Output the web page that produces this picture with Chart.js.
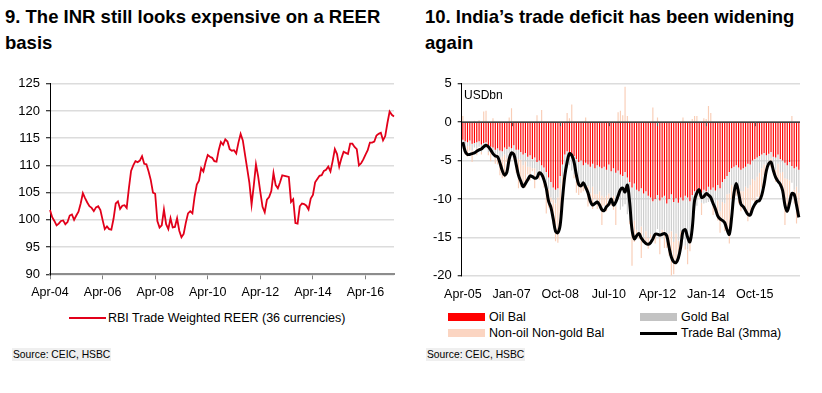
<!DOCTYPE html>
<html>
<head>
<meta charset="utf-8">
<script src="https://cdn.jsdelivr.net/npm/chart.js@4.4.1/dist/chart.umd.min.js"></script>
<style>
html,body{margin:0;padding:0;background:#fff;}
body{width:822px;height:393px;position:relative;overflow:hidden;font-family:"Liberation Sans",Arial,sans-serif;color:#000;}
.title{position:absolute;top:4px;font-weight:bold;font-size:18.5px;line-height:26px;white-space:nowrap;}
canvas{position:absolute;}
.src{position:absolute;top:348px;font-size:10.3px;line-height:13px;background:#efefef;padding:0 1px;white-space:nowrap;}
.lg{position:absolute;font-size:12.5px;line-height:14px;white-space:nowrap;}
.sw{position:absolute;}
</style>
</head>
<body>
<div class="title" style="left:5px">9. The INR still looks expensive on a REER<br>basis</div>
<div class="title" style="left:425px">10. India’s trade deficit has been widening<br>again</div>
<canvas id="c1" width="410" height="240" style="left:0;top:70px"></canvas>
<canvas id="c2" width="412" height="240" style="left:410px;top:70px"></canvas>
<div class="lg" style="left:464px;top:88px;font-size:12px">USDbn</div>

<div class="sw" style="left:69px;top:317px;width:37px;height:2px;background:#E2001A"></div>
<div class="lg" style="left:108px;top:311px">RBI Trade Weighted REER (36 currencies)</div>
<div class="src" style="left:12px">Source: CEIC, HSBC</div>

<div class="sw" style="left:448px;top:313px;width:37px;height:8px;background:#FF0000"></div>
<div class="lg" style="left:489px;top:310px">Oil Bal</div>
<div class="sw" style="left:640px;top:313px;width:37px;height:8px;background:#C3C3C3"></div>
<div class="lg" style="left:681px;top:310px">Gold Bal</div>
<div class="sw" style="left:448px;top:329px;width:37px;height:8px;background:#FBD5C2"></div>
<div class="lg" style="left:489px;top:326px">Non-oil Non-gold Bal</div>
<div class="sw" style="left:640px;top:331.5px;width:37px;height:3px;background:#000"></div>
<div class="lg" style="left:681px;top:326px">Trade Bal (3mma)</div>
<div class="src" style="left:426px">Source: CEIC, HSBC</div>

<script>
// ---------- Chart 9: REER (monthly, Apr-04 .. May-17) ----------
const reerValues = [
 101.8,100.5,99.8,99.0,99.3,99.8,99.9,99.2,99.6,100.8,
 101.0,100.0,100.8,101.5,103.0,104.9,104.0,103.2,102.5,102.2,
 101.6,102.3,102.5,101.8,100.0,98.3,98.8,98.3,98.2,100.2,
 103.0,103.4,102.0,102.6,102.7,102.2,105.8,109.0,110.0,110.8,
 110.6,110.9,111.7,110.3,110.2,108.9,107.3,105.0,104.8,99.8,
 98.6,99.0,101.9,99.2,98.3,100.3,98.6,98.7,100.3,98.0,
 96.8,97.4,99.5,101.2,101.6,101.2,104.3,106.5,107.2,109.5,
 108.9,110.6,111.9,111.6,111.4,110.8,110.7,112.8,114.3,113.8,
 114.8,114.4,113.0,112.7,112.8,112.2,114.2,115.8,114.6,112.0,
 109.4,106.8,102.8,106.3,110.2,108.0,105.1,102.4,101.4,103.7,
 104.2,105.3,108.6,106.4,105.8,106.9,108.2,108.1,108.0,107.9,
 103.3,103.8,99.4,99.3,102.5,103.0,102.9,102.6,101.9,103.9,
 104.6,106.9,107.5,108.1,108.2,109.0,109.2,109.8,108.9,110.8,
 113.0,112.1,109.8,111.3,112.5,112.3,112.1,114.0,114.0,113.4,
 113.0,110.0,110.4,111.1,112.0,112.8,114.2,114.2,114.4,115.5,
 115.8,116.0,114.6,115.4,117.8,119.9,119.3,119.0
];
const reerTickLabels = ['Apr-04','Apr-06','Apr-08','Apr-10','Apr-12','Apr-14','Apr-16'];
const reerYTicks = [90,95,100,105,110,115,120,125];

// ---------- Chart 10: trade balance (USDbn, monthly, Apr-05 .. May-17) ----------
const oilBal = [
 -2.3,-2.5,-2.6,-2.4,-2.8,-2.7,-2.6,-2.5,-2.9,-2.7,-2.6,-3.0,
 -3.2,-3.3,-3.6,-3.4,-3.7,-3.8,-3.3,-3.5,-3.2,-3.4,-3.0,-3.6,
 -3.6,-3.9,-4.2,-4.0,-4.5,-4.3,-4.8,-4.6,-5.2,-5.0,-5.6,-5.9,
 -6.5,-7.2,-7.8,-8.5,-8.8,-8.6,-7.0,-5.5,-4.2,-3.8,-4.0,-4.3,
 -4.4,-4.8,-5.2,-5.0,-5.6,-5.3,-5.5,-5.8,-5.4,-6.0,-5.6,-5.8,
 -6.0,-5.8,-6.2,-5.5,-6.4,-6.0,-6.6,-6.3,-6.8,-7.0,-6.5,-7.2,
 -7.8,-8.5,-8.0,-8.8,-9.0,-8.6,-9.3,-9.0,-9.6,-9.8,-10.3,-10.0,
 -9.5,-10.2,-9.8,-9.6,-10.6,-10.0,-9.4,-10.4,-9.9,-10.5,-9.8,-10.2,
 -9.6,-9.8,-10.3,-9.5,-9.0,-9.4,-8.6,-9.2,-8.8,-9.0,-8.4,-8.8,
 -8.5,-8.9,-8.2,-8.6,-7.8,-7.4,-7.0,-6.5,-6.0,-5.8,-5.6,-5.9,
 -6.2,-6.0,-5.8,-5.4,-5.5,-5.0,-4.8,-4.6,-4.4,-4.2,-4.0,-4.3,
 -4.1,-3.9,-4.5,-4.6,-4.2,-4.8,-5.0,-5.3,-5.6,-5.2,-5.7,-6.0,
 -5.8,-6.2
];
const goldBal = [
 -0.6,-0.8,-0.5,-0.7,-0.9,-0.6,-0.8,-0.7,-1.0,-0.6,-0.8,-0.9,
 -0.7,-0.9,-1.0,-0.8,-1.1,-0.7,-0.9,-1.2,-0.8,-1.0,-0.9,-1.1,
 -1.2,-1.0,-1.4,-1.1,-1.3,-1.5,-1.2,-1.4,-1.6,-1.3,-1.5,-1.7,
 -1.8,-1.5,-2.0,-1.6,-1.8,-1.2,-1.0,-1.5,-1.8,-2.2,-1.6,-2.0,
 -2.4,-2.8,-2.2,-3.0,-2.6,-3.2,-2.8,-3.5,-3.0,-3.4,-3.8,-3.2,
 -3.6,-4.0,-3.4,-3.8,-4.2,-3.6,-4.4,-3.8,-4.6,-4.0,-4.2,-4.8,
 -5.0,-5.4,-4.8,-5.2,-5.6,-5.0,-5.8,-5.2,-5.5,-4.8,-5.0,-4.6,
 -4.4,-4.8,-4.2,-4.6,-5.0,-4.5,-4.8,-5.2,-4.6,-4.9,-4.4,-5.0,
 -6.5,-6.8,-4.5,-2.5,-1.2,-1.5,-1.0,-1.3,-1.8,-1.5,-2.0,-1.6,
 -2.2,-2.5,-2.0,-3.0,-2.6,-3.2,-2.4,-2.8,-2.2,-2.6,-3.0,-2.5,
 -2.8,-3.0,-2.6,-3.2,-2.7,-2.4,-2.8,-2.5,-2.2,-1.8,-1.5,-1.2,
 -1.0,-0.8,-1.4,-1.6,-1.2,-1.8,-1.5,-2.0,-1.8,-2.4,-2.2,-2.8,
 -2.6,-3.0
];
const nonOilNonGoldBal = [
 0.8,-0.9,-1.4,-0.6,-1.5,0.2,-0.9,0.3,-0.3,1.4,1.5,-0.4,
 -1.2,0.5,-0.8,-1.3,-2.1,-2.8,-3.0,-0.5,0.6,1.8,-1.0,-1.9,
 -3.8,-3.5,-2.6,-3.4,-1.0,-1.8,-0.4,-2.6,0.9,-1.2,1.6,-0.9,
 -3.6,-2.4,-0.6,-3.2,-4.9,-5.9,-4.2,-1.8,-0.6,1.2,0.5,2.3,
 -0.5,-1.6,-2.1,-1.2,-0.8,0.6,-2.7,-0.7,-2.9,-0.6,-1.9,-1.5,
 -3.8,-1.1,-2.0,-0.7,-0.3,-1.8,-2.4,1.3,1.5,0.9,4.6,0.8,
 -0.5,-4.8,-2.8,-1.0,-0.6,-4.1,-0.2,-1.8,-1.4,-0.5,1.9,-1.2,
 0.6,-2.2,-0.9,-2.2,-0.8,-2.9,-5.8,-4.2,-3.5,-1.8,-0.8,0.6,
 -0.5,-1.9,-2.0,0.4,0.8,0.8,-0.2,-1.6,0.5,0.4,2.1,1.2,
 -1.4,-0.3,-2.6,-2.8,-2.1,-3.6,-4.5,-6.5,-1.8,-0.2,-1.0,-2.2,
 -2.6,-1.8,-3.2,-4.3,-3.6,-2.8,-3.4,-2.6,-3.2,-2.5,-1.4,-0.6,
 -0.4,-1.2,-1.0,-1.6,-2.0,-1.8,-3.2,-6.1,-3.8,-2.2,0.8,-1.8,
 -4.8,-3.0
];
const tradeBal3mma = [
 -2.6,-3.8,-4.2,-4.2,-4.1,-4.0,-3.8,-3.6,-3.5,-3.2,
 -3.0,-3.2,-3.6,-4.1,-4.4,-4.5,-5.3,-6.3,-6.9,-6.5,
 -4.8,-4.0,-4.2,-5.5,-6.9,-7.7,-8.4,-8.0,-7.5,-7.0,
 -7.1,-7.3,-7.2,-6.6,-6.8,-7.5,-8.6,-10.3,-11.1,-12.6,
 -14.2,-14.4,-13.4,-10.0,-7.0,-5.2,-4.1,-4.3,-5.2,-6.9,
 -8.1,-8.3,-7.9,-8.5,-9.2,-10.3,-10.8,-10.6,-10.4,-10.8,
 -11.4,-11.5,-11.0,-10.7,-10.0,-10.8,-10.4,-9.6,-8.8,-8.6,
 -9.1,-8.2,-10.5,-14.0,-15.2,-14.8,-14.5,-15.1,-15.5,-15.8,
 -15.9,-15.7,-15.2,-14.6,-14.6,-14.7,-14.6,-14.5,-14.8,-16.3,
 -17.6,-18.2,-18.3,-17.7,-16.3,-14.2,-14.0,-15.0,-15.6,-13.8,
 -10.2,-9.2,-8.8,-9.8,-9.7,-9.3,-9.5,-9.8,-10.6,-11.3,
 -12.2,-12.6,-12.8,-13.1,-14.0,-14.6,-12.4,-9.3,-8.0,-9.2,
 -10.7,-11.0,-11.5,-12.0,-12.1,-11.3,-10.7,-10.3,-10.2,-9.5,
 -8.1,-6.3,-5.4,-5.2,-6.3,-7.2,-7.7,-8.1,-8.9,-10.8,
 -11.6,-10.5,-9.3,-9.4,-10.8,-12.4
];
const tradeTickLabels = ['Apr-05','Jan-07','Oct-08','Jul-10','Apr-12','Jan-14','Oct-15'];
const tradeYTicks = [-20,-15,-10,-5,0,5];

// ---------- helpers ----------
const MONTHS = ['Jan','Feb','Mar','Apr','May','Jun','Jul','Aug','Sep','Oct','Nov','Dec'];
function monthRange(year, month, n) {
  const out = [];
  for (let k = 0; k < n; k++) {
    const m = (month + k) % 12, y = year + Math.floor((month + k) / 12);
    out.push(MONTHS[m] + '-' + String(y % 100).padStart(2, '0'));
  }
  return out;
}
const reerMonths = monthRange(2004, 3, reerValues.length);
const tradeMonths = monthRange(2005, 3, tradeBal3mma.length);
const FONT = '"Liberation Sans", Arial, sans-serif';

// ---------- Chart 9 ----------
new Chart(document.getElementById('c1'), {
  type: 'line',
  data: {
    labels: reerMonths,
    datasets: [{
      label: 'RBI Trade Weighted REER (36 currencies)',
      data: reerValues,
      borderColor: '#E2001A',
      borderWidth: 1.8,
      pointRadius: 0,
      tension: 0,
      fill: false
    }]
  },
  options: {
    responsive: false, animation: false, devicePixelRatio: 1,
    layout: { padding: { left: 0, right: 16, top: 11.7, bottom: 5.7 } },
    plugins: { legend: { display: false }, tooltip: { enabled: false } },
    scales: {
      x: {
        offset: false,
        grid: {
          drawOnChartArea: false, drawTicks: true, tickLength: 5, tickWidth: 1,
          tickColor: c => reerTickLabels.includes(reerMonths[c.index]) ? '#808080' : 'rgba(0,0,0,0)'
        },
        border: { display: true, color: '#8c8c8c', width: 2 },
        ticks: {
          autoSkip: false, maxRotation: 0, minRotation: 0, padding: 6, color: '#000',
          font: { family: FONT, size: 12.5 },
          callback: (v, i) => reerTickLabels.includes(reerMonths[i]) ? reerMonths[i] : ''
        },
        afterFit: s => { s.height = 30; }
      },
      y: {
        min: reerYTicks[0], max: reerYTicks[reerYTicks.length - 1],
        afterBuildTicks: s => { s.ticks = reerYTicks.map(v => ({ value: v })); },
        ticks: { padding: 6, color: '#000', font: { family: FONT, size: 13 } },
        grid: { color: '#dcdcdc', lineWidth: 1.5, drawTicks: true, tickLength: 4, tickColor: '#000', tickWidth: 1 },
        border: { display: true, color: '#000', width: 1 },
        afterFit: s => { s.width = 50; }
      }
    }
  }
});

// ---------- Chart 10 ----------
const zeroLine = {
  id: 'zeroLine',
  afterDatasetsDraw(chart) {
    const { ctx, chartArea: a, scales: { x, y } } = chart;
    const y0 = y.getPixelForValue(0);
    ctx.save();
    ctx.strokeStyle = '#000';
    ctx.lineWidth = 1.3;
    ctx.beginPath(); ctx.moveTo(a.left, y0); ctx.lineTo(a.right, y0); ctx.stroke();
    ctx.strokeStyle = '#555'; ctx.lineWidth = 1;
    tradeMonths.forEach((m, i) => {
      if (i > 0 && tradeTickLabels.includes(m)) {
        const px = Math.round(x.getPixelForValue(i)) + 0.5;
        ctx.beginPath(); ctx.moveTo(px, y0); ctx.lineTo(px, y0 + 4); ctx.stroke();
      }
    });
    ctx.restore();
  }
};

new Chart(document.getElementById('c2'), {
  type: 'bar',
  data: {
    labels: tradeMonths,
    datasets: [
      { type: 'line', label: 'Trade Bal (3mma)', data: tradeBal3mma, borderColor: '#000', borderWidth: 3,
        pointRadius: 0, tension: 0.35, fill: false, order: 0, stack: 'line' },
      { label: 'Oil Bal', data: oilBal, backgroundColor: '#FF0000', stack: 'bal', order: 1,
        barPercentage: 0.5, categoryPercentage: 1.0 },
      { label: 'Gold Bal', data: goldBal, backgroundColor: '#CDCDCD', stack: 'bal', order: 1,
        barPercentage: 0.5, categoryPercentage: 1.0 },
      { label: 'Non-oil Non-gold Bal', data: nonOilNonGoldBal, backgroundColor: '#F9CDB6', stack: 'bal', order: 1,
        barPercentage: 0.5, categoryPercentage: 1.0 }
    ]
  },
  options: {
    responsive: false, animation: false, devicePixelRatio: 1,
    layout: { padding: { left: 0, right: 22, top: 12.3, bottom: 4.3 } },
    plugins: { legend: { display: false }, tooltip: { enabled: false } },
    scales: {
      x: {
        stacked: true, offset: true,
        grid: { display: false, drawTicks: false },
        border: { display: false },
        ticks: {
          autoSkip: false, maxRotation: 0, minRotation: 0, padding: 11, color: '#000',
          font: { family: FONT, size: 12.5 },
          callback: (v, i) => tradeTickLabels.includes(tradeMonths[i]) ? tradeMonths[i] : ''
        },
        afterFit: s => { s.height = 30; }
      },
      y: {
        stacked: true,
        min: tradeYTicks[0], max: tradeYTicks[tradeYTicks.length - 1],
        afterBuildTicks: s => { s.ticks = tradeYTicks.map(v => ({ value: v })); },
        ticks: { padding: 6, color: '#000', font: { family: FONT, size: 13 } },
        grid: {
          color: c => (c.tick && c.tick.value === 0) ? 'rgba(0,0,0,0)' : '#dcdcdc',
          lineWidth: 1.5, drawTicks: true, tickLength: 4, tickColor: '#000', tickWidth: 1
        },
        border: { display: true, color: '#000', width: 1 },
        afterFit: s => { s.width = 51.7; }
      }
    }
  },
  plugins: [zeroLine]
});
</script>
</body>
</html>
